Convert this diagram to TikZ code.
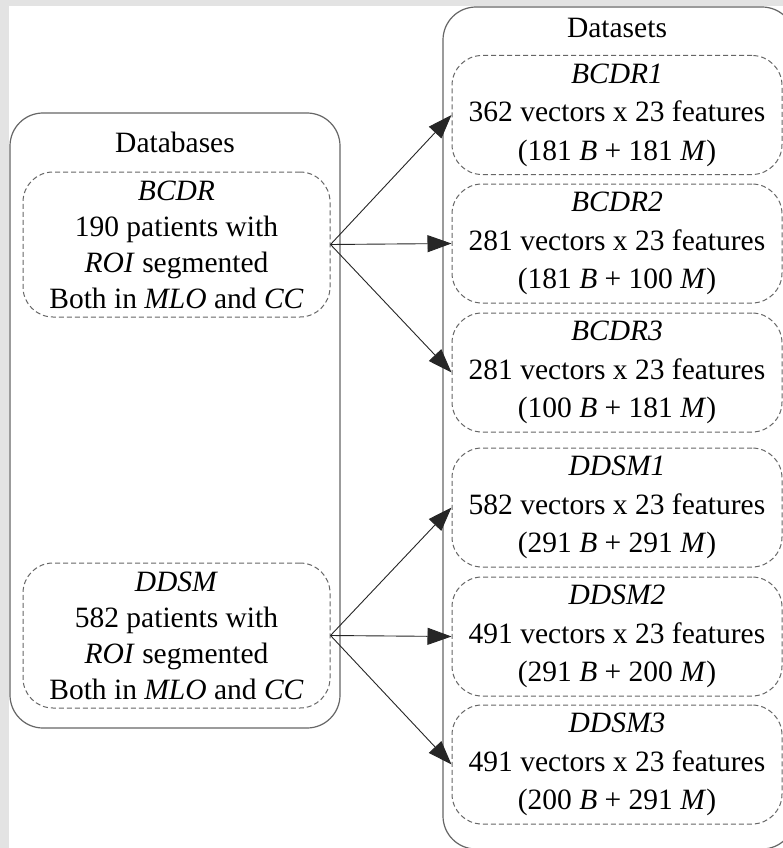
\documentclass[tikz,border=0pt]{standalone}
\usepackage{fontspec}
\setmainfont{Liberation Serif}
\usetikzlibrary{arrows.meta}
\begin{document}
\begin{tikzpicture}[x=1pt,y=-1pt,
 outerbox/.style={draw=black!60, line width=1.2pt, rounded corners=33pt, inner sep=0pt},
 dbox/.style={draw=black!60, dash pattern=on 5pt off 3pt, line width=1pt, rounded corners=30pt, align=center, inner sep=0pt, font=\fontsize{29.5}{36}\selectfont},
 rbox/.style={dbox, minimum width=330pt, minimum height=119pt, font=\fontsize{29.5}{38.5}\selectfont},
 ttl/.style={inner sep=0pt, font=\fontsize{29.5}{36}\selectfont},
 arr/.style={-{Triangle[length=24pt,width=17pt]}, line width=0.9pt, draw=black!85}]
\fill[black!11] (0,0) rectangle (783,848);
\fill[white] (8.5,6.5) rectangle (783,848);
\useasboundingbox (0,0) rectangle (783,848);
% outer boxes
\node[outerbox, minimum width=330pt, minimum height=615pt] (dbs) at (175,420.5) {};
\node[outerbox, minimum width=352pt, minimum height=842pt] (dst) at (619,428) {};
\node[ttl] (dbsT) at (175,142) {Databases};
\node[ttl] (dstT) at (617,28) {Datasets};
% left dashed
\node[dbox, minimum width=307pt, minimum height=145pt] (bcdr) at (176.5,244.5)
 {\textit{BCDR}\\190 patients with\\\textit{ROI} segmented\\Both in \textit{MLO} and \textit{CC}};
\node[dbox, minimum width=307pt, minimum height=145pt] (ddsm) at (176.5,635.5)
 {\textit{DDSM}\\582 patients with\\\textit{ROI} segmented\\Both in \textit{MLO} and \textit{CC}};
% right dashed
\node[rbox] (b1) at (617,115)
 {\textit{BCDR1}\\362 vectors x 23 features\\(181 \textit{B} + 181 \textit{M})};
\node[rbox] (b2) at (617,243.5)
 {\textit{BCDR2}\\281 vectors x 23 features\\(181 \textit{B} + 100 \textit{M})};
\node[rbox] (b3) at (617,372.5)
 {\textit{BCDR3}\\281 vectors x 23 features\\(100 \textit{B} + 181 \textit{M})};
\node[rbox] (d1) at (617,507.5)
 {\textit{DDSM1}\\582 vectors x 23 features\\(291 \textit{B} + 291 \textit{M})};
\node[rbox] (d2) at (617,636.5)
 {\textit{DDSM2}\\491 vectors x 23 features\\(291 \textit{B} + 200 \textit{M})};
\node[rbox] (d3) at (617,764.5)
 {\textit{DDSM3}\\491 vectors x 23 features\\(200 \textit{B} + 291 \textit{M})};
% arrows
\draw[arr] (bcdr.east) -- (b1.west);
\draw[arr] (bcdr.east) -- (b2.west);
\draw[arr] (bcdr.east) -- (b3.west);
\draw[arr] (ddsm.east) -- (d1.west);
\draw[arr] (ddsm.east) -- (d2.west);
\draw[arr] (ddsm.east) -- (d3.west);
\end{tikzpicture}
\end{document}
